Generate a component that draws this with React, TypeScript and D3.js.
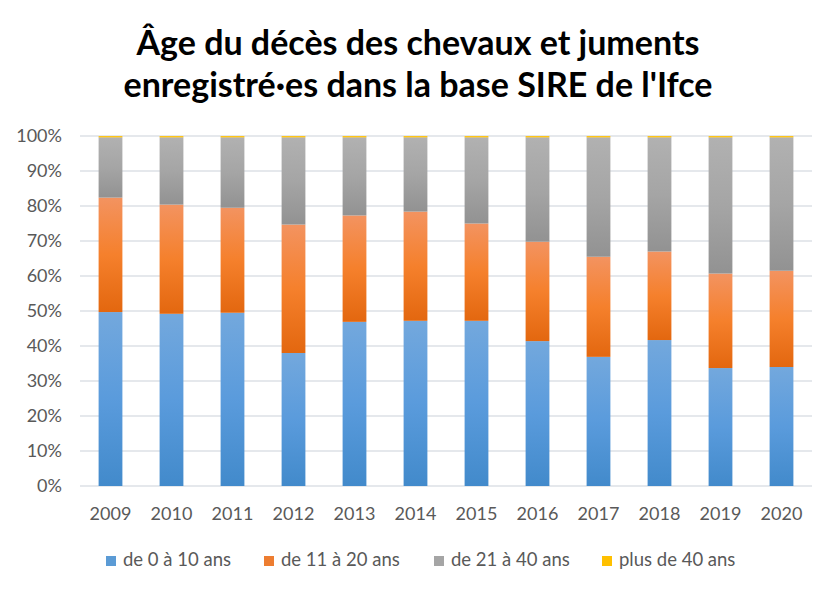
import * as d3 from 'd3';

// Années
const YEARS = ['2009', '2010', '2011', '2012', '2013', '2014', '2015', '2016', '2017', '2018', '2019', '2020'];

// Parts (%) par tranche d'âge
const AGE_0_10 = [49.7, 49.2, 49.5, 38.0, 46.9, 47.2, 47.2, 41.4, 36.9, 41.7, 33.7, 34.0];
const AGE_11_20 = [32.7, 31.2, 30.0, 36.7, 30.4, 31.2, 27.8, 28.4, 28.6, 25.3, 27.0, 27.5];
const AGE_21_40 = [17.2, 19.2, 20.1, 24.9, 22.3, 21.2, 24.6, 29.8, 34.1, 32.6, 38.9, 38.1];
const AGE_40_PLUS = [0.4, 0.4, 0.4, 0.4, 0.4, 0.4, 0.4, 0.4, 0.4, 0.4, 0.4, 0.4];

const SERIES = ['de 0 à 10 ans', 'de 11 à 20 ans', 'de 21 à 40 ans', 'plus de 40 ans'];
const Y_TICKS = [0, 10, 20, 30, 40, 50, 60, 70, 80, 90, 100];

// dégradés façon Excel
const GRADIENTS = [
  ['#73a8dd', '#5a9bdc', '#428acb'],
  ['#f39360', '#f5802c', '#e3670f'],
  ['#b1b1b1', '#a5a5a5', '#929292'],
  ['#ffd24a', '#ffc000', '#e8ae00']
];
const LEGEND_COLORS = ['#5b9bd5', '#ed7d31', '#a5a5a5', '#ffc000'];
const LEGEND_X = [106, 264, 434, 602];

const W = 837;
const H = 593;
const FONT = 'Lato, "Open Sans", sans-serif';

export default function App() {
  const rows = YEARS.map((y, i) => ({
    year: y,
    a: AGE_0_10[i],
    b: AGE_11_20[i],
    c: AGE_21_40[i],
    d: AGE_40_PLUS[i]
  }));
  const stack = d3.stack<any>().keys(['a', 'b', 'c', 'd'])(rows);

  const x = d3.scaleBand().domain(YEARS).range([80, 812]).paddingInner(0.61).paddingOuter(0.305);
  const y = d3.scaleLinear().domain([0, 100]).range([486, 136]);

  return (
    <svg width={W} height={H} style={{ position: 'absolute', left: 0, top: 0, background: '#fff' }} fontFamily={FONT}>
      <defs>
        {GRADIENTS.map((g, i) => (
          <linearGradient key={i} id={`grad${i}`} x1="0" y1="0" x2="0" y2="1">
            <stop offset="0%" stopColor={g[0]} />
            <stop offset="50%" stopColor={g[1]} />
            <stop offset="100%" stopColor={g[2]} />
          </linearGradient>
        ))}
      </defs>
      <rect width={W} height={H} fill="#fff" />

      <text x={418} y={55} textAnchor="middle" fontSize={34} fontWeight="bold" fill="#000">
        Âge du décès des chevaux et juments
      </text>
      <text x={418} y={97} textAnchor="middle" fontSize={34} fontWeight="bold" fill="#000">
        enregistré·es dans la base SIRE de l'Ifce
      </text>

      {Y_TICKS.map((t) => (
        <g key={t}>
          <line x1={80} x2={812} y1={y(t)} y2={y(t)} stroke="#dde1e6" strokeWidth={1.5} />
          <text x={62} y={y(t)} dy="0.35em" textAnchor="end" fontSize={18} fill="#595959">
            {t}%
          </text>
        </g>
      ))}

      {stack.map((s, si) => (
        <g key={si}>
          {s.map((d: any) => (
            <rect
              key={d.data.year}
              x={x(d.data.year)}
              width={x.bandwidth()}
              y={y(d[1])}
              height={Math.max(0, y(d[0]) - y(d[1]))}
              fill={`url(#grad${si})`}
            />
          ))}
        </g>
      ))}

      {YEARS.map((yr) => (
        <text key={yr} x={(x(yr) ?? 0) + x.bandwidth() / 2} y={514} dy="0.35em" textAnchor="middle" fontSize={18} fill="#595959">
          {yr}
        </text>
      ))}

      {SERIES.map((s, i) => (
        <g key={s}>
          <rect x={LEGEND_X[i]} y={556} width={10} height={10} fill={LEGEND_COLORS[i]} />
          <text x={LEGEND_X[i] + 17} y={560} dy="0.35em" fontSize={18.5} fill="#595959">
            {s}
          </text>
        </g>
      ))}
    </svg>
  );
}
